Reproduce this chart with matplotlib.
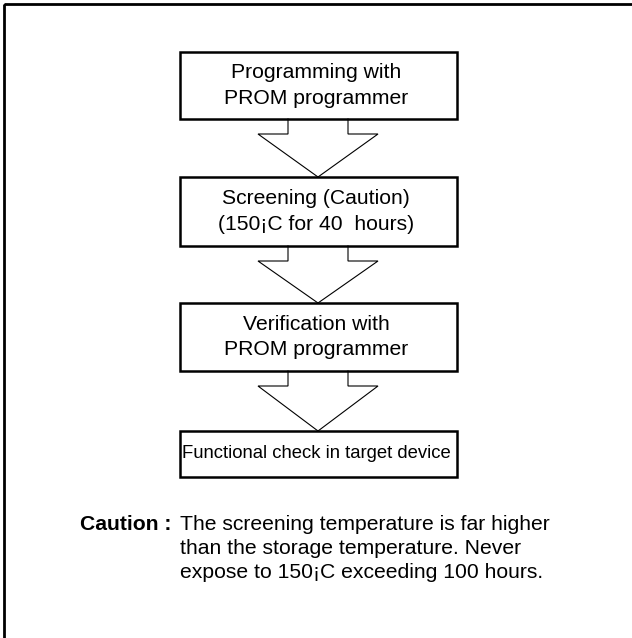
import matplotlib
matplotlib.use("Agg")
import matplotlib.pyplot as plt
from matplotlib.patches import Rectangle

plt.rcParams['font.family'] = ['Liberation Sans', 'DejaVu Sans']

# flow steps (text lines per box)
step_lines = [
    ["Programming with", "PROM programmer"],
    ["Screening (Caution)", "(150\u00a1C for 40  hours)"],
    ["Verification with", "PROM programmer"],
    ["Functional check in target device"],
]
caution_label = "Caution :"
caution_lines = [
    "The screening temperature is far higher",
    "than the storage temperature. Never",
    "expose to 150\u00a1C exceeding 100 hours.",
]

# layout in pixel coords (y grows down)
W, H = 632, 638
cx = 318
box_left, box_right = 180, 457
box_tops = [52, 177, 303, 431]
box_bottoms = [119, 246, 371, 477]
line_gap = 25
text_sizes = [15.2, 15.2, 15.2, 13.3]

fig = plt.figure(figsize=(W / 100, H / 100), dpi=100)
ax = fig.add_axes([0, 0, 1, 1])
ax.set_xlim(0, W)
ax.set_ylim(H, 0)
ax.axis('off')

# outer frame (only top/left fall inside the picture)
ax.add_patch(Rectangle((4, 4), 700, 700, fill=False, ec='black', lw=2.0))

for i, lines in enumerate(step_lines):
    top, bot = box_tops[i], box_bottoms[i]
    ax.add_patch(Rectangle((box_left, top), box_right - box_left, bot - top,
                           fill=False, ec='black', lw=1.8, zorder=3))
    mid = (top + bot) / 2
    n = len(lines)
    for j, s in enumerate(lines):
        y = mid + (j - (n - 1) / 2) * line_gap
        ax.text(cx - 2, y, s, ha='center', va='center', fontsize=text_sizes[i])

    # hollow arrow to next box
    if i < len(step_lines) - 1:
        sh = bot + 15
        tip = box_tops[i + 1]
        xs = [cx - 30, cx - 30, cx - 60, cx, cx + 60, cx + 30, cx + 30]
        ys = [bot, sh, sh, tip, sh, sh, bot]
        ax.plot(xs, ys, color='black', lw=0.8, solid_joinstyle='miter')

# caution note
cy0 = 524
ax.text(171, cy0, caution_label, ha='right', va='center', fontsize=15.2,
        fontweight='bold')
for k, s in enumerate(caution_lines):
    ax.text(180, cy0 + k * 24, s, ha='left', va='center', fontsize=15.2)

fig.savefig("out.png", dpi=100)
